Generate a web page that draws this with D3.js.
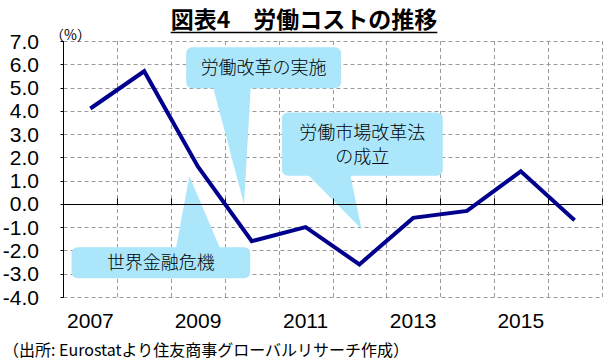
<!DOCTYPE html>
<html>
<head>
<meta charset="utf-8">
<script src="https://cdn.jsdelivr.net/npm/d3@7"></script>
<style>
  body { margin: 0; background: #fff; }
  svg { display: block; }
</style>
</head>
<body>
<div id="chart"></div>
<script>
// 労働コストの推移 (前年比, %)
const years = [2007, 2008, 2009, 2010, 2011, 2012, 2013, 2014, 2015, 2016];
const laborCost = [4.1, 5.7, 1.6, -1.6, -1.0, -2.6, -0.6, -0.3, 1.4, -0.7];
const yTicks = [7, 6, 5, 4, 3, 2, 1, 0, -1, -2, -3, -4];
const xLabels = [2007, 2009, 2011, 2013, 2015];

const titleText = "図表4\u3000労働コストの推移";
const unitText = "（%）";
const sourceText = "（出所: Eurostatより住友商事グローバルリサーチ作成）";

// callouts: box and tail given in category units (x) and % (y)
const callouts = [
  { lines: ["労働改革の実施"], box: [2.28, 5.16, 6.73, 4.97], base: [2.78, 3.48], tip: [3.355, 0.0] },
  { lines: ["労働市場改革法", "の成立"], box: [4.06, 7.05, 3.93, 1.21], base: [4.54, 5.33], tip: [5.54, -1.08] },
  { lines: ["世界金融危機"], box: [0.15, 3.47, -1.86, -3.19], base: [2.09, 2.91], tip: [2.34, 1.19] }
];

const W = 604, H = 362;
const plot = { left: 63.5, right: 601.5, top: 41, bottom: 297 };

const svg = d3.select("#chart").append("svg")
  .attr("width", W)
  .attr("height", H);

const x = d3.scaleBand()
  .domain(years)
  .range([plot.left, plot.right]);
const xu = d3.scaleLinear()       // category units, for gridlines and callouts
  .domain([0, years.length])
  .range([plot.left, plot.right]);
const y = d3.scaleLinear()
  .domain([-4, 7])
  .range([plot.bottom, plot.top]);

const grid = svg.append("g");
// horizontal dashed gridlines
grid.selectAll("line.h")
  .data(yTicks.filter(d => d !== 0))
  .enter().append("line")
  .attr("x1", plot.left).attr("x2", plot.right)
  .attr("y1", d => Math.round(y(d)) + 0.5).attr("y2", d => Math.round(y(d)) + 0.5)
  .attr("stroke", "#9a9a9a")
  .attr("stroke-dasharray", "4,3");
// vertical dashed gridlines
grid.selectAll("line.v")
  .data(d3.range(1, years.length + 1))
  .enter().append("line")
  .attr("x1", d => Math.round(xu(d)) + 0.5).attr("x2", d => Math.round(xu(d)) + 0.5)
  .attr("y1", plot.top).attr("y2", plot.bottom)
  .attr("stroke", "#9a9a9a")
  .attr("stroke-dasharray", "4,3");

// callouts
const cg = svg.append("g");
callouts.forEach(function (c) {
  const bx0 = xu(c.box[0]), bx1 = xu(c.box[1]);
  const by0 = y(c.box[2]), by1 = y(c.box[3]);
  cg.append("rect")
    .attr("x", bx0).attr("y", by0)
    .attr("width", bx1 - bx0).attr("height", by1 - by0)
    .attr("rx", 6)
    .attr("fill", "#abe6fb");
  const tipY = y(c.tip[1]);
  const baseY = tipY > by1 ? by1 - 1 : by0 + 1;
  cg.append("path")
    .attr("d", d3.line()([[xu(c.base[0]), baseY], [xu(c.base[1]), baseY], [xu(c.tip[0]), tipY]]) + "Z")
    .attr("fill", "#abe6fb");
  const cx = (bx0 + bx1) / 2, cy = (by0 + by1) / 2;
  const lh = 24;
  c.lines.forEach(function (t, i) {
    cg.append("text")
      .attr("x", cx)
      .attr("y", cy + (i - (c.lines.length - 1) / 2) * lh)
      .attr("dy", "0.36em")
      .attr("text-anchor", "middle")
      .style("font-family", "'Noto Sans CJK JP', sans-serif")
      .style("font-size", "18px")
      .style("font-weight", 300)
      .attr("fill", "#000")
      .text(t);
  });
});

// axes: left axis, zero line
svg.append("line")
  .attr("x1", plot.left).attr("x2", plot.left)
  .attr("y1", plot.top).attr("y2", plot.bottom + 0.5)
  .attr("stroke", "#000");
svg.selectAll("line.ytick")
  .data(yTicks)
  .enter().append("line")
  .attr("x1", plot.left - 3).attr("x2", plot.left)
  .attr("y1", d => Math.round(y(d)) + 0.5).attr("y2", d => Math.round(y(d)) + 0.5)
  .attr("stroke", "#000");
const y0 = Math.round(y(0)) + 0.5;
svg.append("line")
  .attr("x1", plot.left).attr("x2", plot.right)
  .attr("y1", y0).attr("y2", y0)
  .attr("stroke", "#000");
svg.selectAll("line.xtick")
  .data(d3.range(1, years.length + 1))
  .enter().append("line")
  .attr("x1", d => Math.round(xu(d)) + 0.5).attr("x2", d => Math.round(xu(d)) + 0.5)
  .attr("y1", y0 - 6).attr("y2", y0)
  .attr("stroke", "#000");

// y tick labels
svg.selectAll("text.ylab")
  .data(yTicks)
  .enter().append("text")
  .attr("x", 39)
  .attr("y", d => y(d))
  .attr("dy", "0.36em")
  .attr("text-anchor", "end")
  .style("font-family", "'Liberation Sans', Arial, sans-serif")
  .style("font-size", "21px")
  .text(d => d.toFixed(1));

// x tick labels
svg.selectAll("text.xlab")
  .data(xLabels)
  .enter().append("text")
  .attr("x", d => x(d) + x.bandwidth() / 2)
  .attr("y", 328)
  .attr("text-anchor", "middle")
  .style("font-family", "'Liberation Sans', Arial, sans-serif")
  .style("font-size", "21px")
  .text(d => d);

// data line
svg.append("path")
  .datum(laborCost)
  .attr("fill", "none")
  .attr("stroke", "#00008c")
  .attr("stroke-width", 4)
  .attr("stroke-linejoin", "miter")
  .attr("d", d3.line()
    .x((d, i) => x(years[i]) + x.bandwidth() / 2)
    .y(d => y(d)));

// title with underline
const title = svg.append("text")
  .attr("x", 304)
  .attr("y", 28)
  .attr("text-anchor", "middle")
  .style("font-family", "'Noto Sans CJK JP', sans-serif")
  .style("font-size", "23px")
  .style("font-weight", "bold")
  .text(titleText);
const tb = title.node().getBBox();
svg.append("line")
  .attr("x1", tb.x).attr("x2", tb.x + tb.width)
  .attr("y1", 32.5).attr("y2", 32.5)
  .attr("stroke", "#000")
  .attr("stroke-width", 1.5);

// unit label
svg.append("text")
  .attr("x", 50)
  .attr("y", 40)
  .style("font-family", "'Noto Sans CJK JP', sans-serif")
  .style("font-size", "14px")
  .text(unitText);

// source note
svg.append("text")
  .attr("x", 3)
  .attr("y", 356)
  .style("font-family", "'Noto Sans CJK JP', sans-serif")
  .style("font-size", "16px")
  .text(sourceText);
</script>
</body>
</html>
